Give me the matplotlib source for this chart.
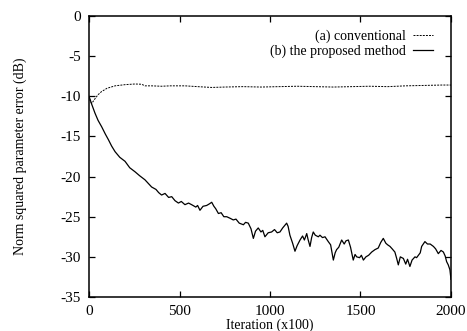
import matplotlib
matplotlib.use("Agg")
import matplotlib.pyplot as plt

plt.rcParams['font.family'] = ['Liberation Serif', 'DejaVu Serif']

conv_x = [0, 8, 15, 30, 50, 70, 100, 144, 200, 254, 290, 310, 346, 400, 450, 530, 600,
          678, 750, 850, 950, 1050, 1150, 1250, 1350, 1450, 1550, 1650, 1750, 1850, 1950, 2000]
conv_y = [-10.0, -10.7, -10.9, -10.4, -9.8, -9.4, -9.0, -8.7, -8.55, -8.47, -8.5, -8.7, -8.7,
          -8.75, -8.7, -8.7, -8.8, -8.9, -8.85, -8.8, -8.85, -8.8, -8.75, -8.8, -8.85, -8.8,
          -8.75, -8.8, -8.7, -8.65, -8.6, -8.6]

prop_x = [0, 15, 33, 50, 70, 90, 107, 125, 144, 170, 199, 225, 254, 280, 309, 330, 346, 370,
          385, 401, 420, 440, 457, 475, 494, 510, 530, 550, 567, 590, 600, 613, 630, 650, 665,
          678, 690, 700, 715, 730, 745, 761, 780, 797, 812, 830, 853, 865, 880, 895, 908, 920,
          935, 950, 960, 972, 990, 1009, 1025, 1040, 1055, 1070, 1085, 1092, 1100, 1110, 1125,
          1138, 1150, 1166, 1180, 1190, 1203, 1210, 1221, 1230, 1239, 1250, 1267, 1276, 1290,
          1304, 1322, 1335, 1350, 1360, 1368, 1380, 1396, 1410, 1420, 1433, 1445, 1460, 1470,
          1479, 1495, 1505, 1516, 1530, 1545, 1562, 1580, 1598, 1612, 1626, 1640, 1650, 1663,
          1675, 1690, 1700, 1709, 1720, 1737, 1750, 1760, 1773, 1785, 1801, 1810, 1820, 1830,
          1838, 1856, 1870, 1885, 1903, 1915, 1930, 1945, 1958, 1968, 1976, 1985, 1994, 2000]
prop_y = [-10.0, -11.0, -12.1, -13.0, -13.8, -14.7, -15.4, -16.2, -16.9, -17.6, -18.1, -18.9,
          -19.4, -19.9, -20.4, -20.9, -21.3, -21.6, -22.0, -22.3, -22.1, -22.6, -22.5, -23.0,
          -23.3, -23.1, -23.5, -23.3, -23.5, -23.8, -23.6, -24.2, -23.7, -23.6, -23.4, -23.2,
          -23.7, -24.0, -24.6, -24.5, -25.0, -25.0, -25.2, -25.4, -25.3, -25.8, -26.0, -25.7,
          -25.8, -26.5, -27.7, -26.8, -26.4, -26.9, -26.7, -27.5, -27.0, -26.9, -26.6, -27.0,
          -26.9, -26.4, -26.0, -25.8, -26.2, -27.3, -28.3, -29.3, -28.6, -27.9, -27.4, -27.9,
          -27.1, -27.8, -28.7, -27.6, -26.9, -27.3, -27.5, -27.3, -27.6, -27.5, -28.1, -28.5,
          -30.4, -29.5, -29.1, -28.8, -27.9, -28.4, -28.0, -27.9, -28.8, -30.4, -29.7, -30.0,
          -30.1, -29.8, -30.4, -30.0, -29.8, -29.4, -29.1, -28.9, -28.2, -27.7, -28.3, -28.5,
          -28.7, -29.0, -29.4, -30.2, -31.0, -30.0, -30.2, -30.9, -30.3, -31.2, -30.4, -30.0,
          -30.1, -29.8, -29.5, -28.7, -28.1, -28.4, -28.4, -28.7, -29.0, -29.6, -29.2, -29.4,
          -29.9, -30.6, -31.0, -31.6, -32.8]

x_ticks = [0, 500, 1000, 1500, 2000]
y_ticks = [0, -5, -10, -15, -20, -25, -30, -35]
y_tick_labels = ["0", "-5", "-10", "-15", "-20", "-25", "-30", "-35"]

fig = plt.figure(figsize=(4.67, 3.31), dpi=100)
ax = fig.add_axes([0.1906, 0.1027, 0.7751, 0.849])

ax.plot(conv_x, conv_y, color='black', linewidth=0.7, linestyle=(0, (2, 1.2)),
        label='(a) conventional')
ax.plot(prop_x, prop_y, color='black', linewidth=0.9, label='(b) the proposed method')

ax.set_xlim(0, 2000)
ax.set_ylim(-35, 0)
ax.set_xticks(x_ticks)
ax.set_yticks(y_ticks)
ax.set_yticklabels(y_tick_labels)
ax.tick_params(direction='in', top=True, right=True, length=4, width=0.9, labelsize=11)
ax.tick_params(axis='y', pad=6)
ax.tick_params(axis='x', pad=6)
for s in ax.spines.values():
    s.set_linewidth(1.1)

ax.set_xlabel('Iteration (x100)', fontsize=10, labelpad=0)
ax.set_ylabel('Norm squared parameter error (dB)', fontsize=10, labelpad=24)

ax.legend(loc='upper right', frameon=False, markerfirst=False, fontsize=10,
          handlelength=1.45, handletextpad=0.45, labelspacing=0.05,
          borderaxespad=0.0, bbox_to_anchor=(0.965, 0.97))

fig.savefig('out.png', dpi=100)
